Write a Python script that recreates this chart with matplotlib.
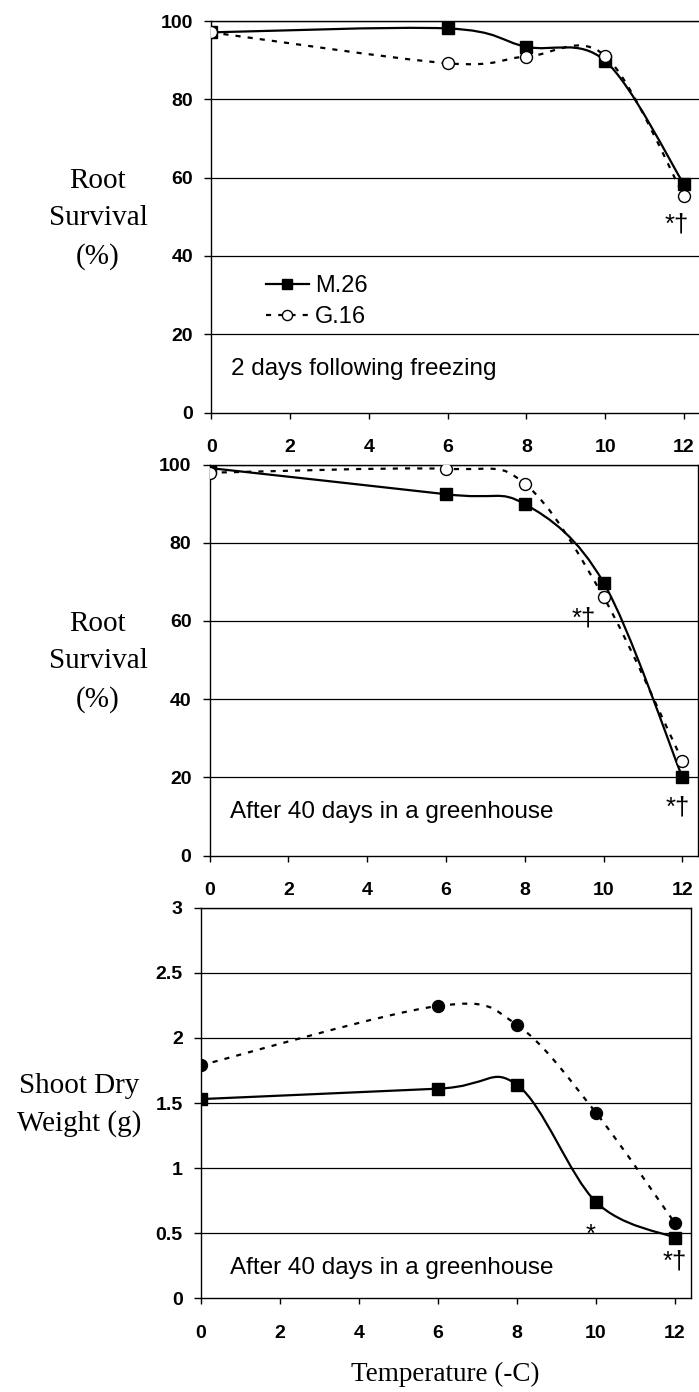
import numpy as np
import matplotlib
matplotlib.use("Agg")
import matplotlib.pyplot as plt
from matplotlib.path import Path
from matplotlib.patches import PathPatch, Rectangle
from matplotlib.lines import Line2D

# ---------------- data ----------------
temps = [0, 6, 8, 10, 12]
x_ticks = [0, 2, 4, 6, 8, 10, 12]
x_tick_labels = ["0", "2", "4", "6", "8", "10", "12"]

root_ticks = [0, 20, 40, 60, 80, 100]
root_tick_labels = ["0", "20", "40", "60", "80", "100"]
shoot_ticks = [0, 0.5, 1, 1.5, 2, 2.5, 3]
shoot_tick_labels = ["0", "0.5", "1", "1.5", "2", "2.5", "3"]

root2_m26 = [97.1, 98.1, 93.4, 89.8, 58.3]
root2_g16 = [97.1, 89.2, 90.9, 91.1, 55.3]
root40_m26 = [99.1, 92.4, 89.9, 69.8, 20.0]
root40_g16 = [97.9, 98.9, 95.1, 66.1, 24.2]
shoot_m26 = [1.53, 1.61, 1.64, 0.74, 0.465]
shoot_g16 = [1.79, 2.245, 2.10, 1.425, 0.576]

series_names = ["M.26", "G.16"]

SANS = "Liberation Sans"
SERIF = "Liberation Serif"
plt.rcParams["font.family"] = [SANS, "DejaVu Sans"]

W, H = 699, 1392
fig = plt.figure(figsize=(W / 100, H / 100), dpi=100)


def ax_px(left, right, top, bottom):
    return fig.add_axes([left / W, 1 - bottom / H, (right - left) / W, (bottom - top) / H])


def smooth_path(xs, ys):
    pts = np.column_stack([xs, ys]).astype(float)
    n = len(pts)
    verts = [pts[0]]
    codes = [Path.MOVETO]
    for i in range(n - 1):
        p0 = pts[max(i - 1, 0)]
        p1 = pts[i]
        p2 = pts[i + 1]
        p3 = pts[min(i + 2, n - 1)]
        c1 = p1 + (p2 - p0) / 6.0
        c2 = p2 - (p3 - p1) / 6.0
        verts += [c1, c2, p2]
        codes += [Path.CURVE4] * 3
    return Path(verts, codes)


DASH = (0, (2.3, 3.2))
LW = 1.6
MS = 8.6
TICKFS = 14


def style_axes(ax, yticks, ylabels, ymax):
    ax.set_xlim(0, 12.4)
    ax.set_ylim(0, ymax)
    ax.set_xticks(x_ticks, labels=x_tick_labels, fontweight="bold", fontsize=TICKFS)
    ax.set_yticks(yticks, labels=ylabels, fontweight="bold", fontsize=TICKFS)
    ax.tick_params(axis="y", direction="out", length=5, width=1, pad=8)
    ax.tick_params(axis="x", direction="out", length=4.5, width=1, pad=14.5)
    for y in yticks[1:]:
        ax.axhline(y, color="black", lw=0.9, zorder=1)
    for s in ax.spines.values():
        s.set_linewidth(1.0)
        s.set_color("black")
        s.set_zorder(1.5)


def draw_series(ax, ys_m, ys_g, g_fill):
    ax.add_patch(PathPatch(smooth_path(temps, ys_m), fill=False, lw=LW,
                           color="black", zorder=3, capstyle="butt"))
    ax.add_patch(PathPatch(smooth_path(temps, ys_g), fill=False, lw=LW,
                           color="black", linestyle=DASH, zorder=3))
    ax.plot(temps, ys_m, linestyle="none", marker="s", ms=MS, mfc="black",
            mec="black", zorder=4)
    ax.plot(temps, ys_g, linestyle="none", marker="o", ms=MS, mfc=g_fill,
            mec="black", mew=1.0, zorder=5)


# ---------------- panel 1 ----------------
ax1 = ax_px(211.3, 699.7, 21, 412.5)
style_axes(ax1, root_ticks, root_tick_labels, 100)
draw_series(ax1, root2_m26, root2_g16, "white")
ax1.text(0.49, 11.0, "2 days following freezing", fontsize=17.5, ha="left", va="center")
ax1.text(11.82, 48.0, "*\u2020", fontsize=18.5, ha="center", va="center")

# legend
ax1.add_patch(Rectangle((0.48, 20.2), 4.3, 17.5, facecolor="white", edgecolor="none",
                        alpha=0.8, zorder=2))
handles = [
    Line2D([], [], color="black", lw=LW, marker="s", ms=MS * 0.85, mfc="black"),
    Line2D([], [], color="black", lw=LW, linestyle=DASH, marker="o", ms=MS * 0.85,
           mfc="white", mec="black"),
]
ax1.legend(handles, series_names, loc="center left",
           bbox_to_anchor=((265.5 - 211.3) / 488.4, (412.5 - 301.7) / 391.5),
           frameon=False, fontsize=17, handlelength=1.85, handletextpad=0.25,
           labelspacing=0.38, borderpad=0, borderaxespad=0)

# ---------------- panel 2 ----------------
ax2 = ax_px(209.5, 698.1, 464.5, 855.5)
style_axes(ax2, root_ticks, root_tick_labels, 100)
draw_series(ax2, root40_m26, root40_g16, "white")
ax2.text(0.53, 11.2, "After 40 days in a greenhouse", fontsize=17.5, ha="left", va="center")
ax2.text(9.5, 60.5, "*\u2020", fontsize=18.5, ha="center", va="center")
ax2.text(11.89, 12.2, "*\u2020", fontsize=18.5, ha="center", va="center")

# ---------------- panel 3 ----------------
ax3 = ax_px(200.8, 690.8, 907.7, 1298.3)
style_axes(ax3, shoot_ticks, shoot_tick_labels, 3)
draw_series(ax3, shoot_m26, shoot_g16, "black")
ax3.text(0.75, 0.23, "After 40 days in a greenhouse", fontsize=17.5, ha="left", va="center")
ax3.text(9.86, 0.49, "*", fontsize=18.5, ha="center", va="center")
ax3.text(12.0, 0.28, "*\u2020", fontsize=18.5, ha="center", va="center")

# ---------------- axis titles ----------------
fig.text(98 / W, 1 - 219 / H, "Root\nSurvival\n(%)", family=SERIF, fontsize=21,
         ha="center", va="center", linespacing=1.55, multialignment="center")
fig.text(98 / W, 1 - 662 / H, "Root\nSurvival\n(%)", family=SERIF, fontsize=21,
         ha="center", va="center", linespacing=1.55, multialignment="center")
fig.text(79 / W, 1 - 1105 / H, "Shoot Dry\nWeight (g)", family=SERIF, fontsize=21,
         ha="center", va="center", linespacing=1.55, multialignment="center")
fig.text(445.7 / W, 1 - 1374 / H, "Temperature (-C)", family=SERIF, fontsize=19.5,
         ha="center", va="center")

fig.savefig("out.png", dpi=100)
